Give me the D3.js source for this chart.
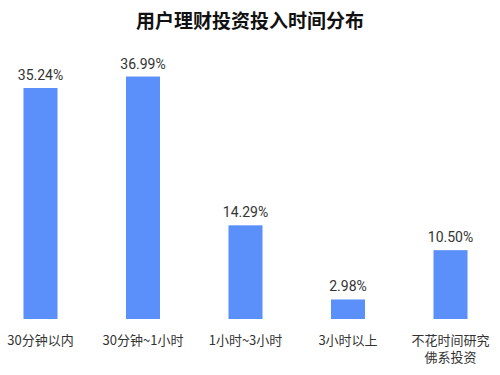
<!DOCTYPE html>
<html><head><meta charset="utf-8">
<script src="https://cdn.jsdelivr.net/npm/d3@7"></script>
<style>body{margin:0;background:#fff}</style>
</head><body>
<svg id="c" width="500" height="375"></svg>
<script>
const categories = [["30分钟以内"],["30分钟~1小时"],["1小时~3小时"],["3小时以上"],["不花时间研究","佛系投资"]];
const values = [35.24, 36.99, 14.29, 2.98, 10.50];
const labels = ["35.24%","36.99%","14.29%","2.98%","10.50%"];

const svg = d3.select("#c");
const x = d3.scaleBand().domain(d3.range(values.length)).range([-10.75, 501.75]).paddingInner(0.668).paddingOuter(0.334);
const y = d3.scaleLinear().domain([0, 40]).range([319, 56.8]);

svg.append("text").attr("x", 250).attr("y", 28).attr("text-anchor", "middle")
  .attr("font-family", "'Noto Sans CJK SC'").attr("font-weight", "bold").attr("font-size", 19).attr("fill", "#111")
  .text("用户理财投资投入时间分布");

svg.selectAll("rect.bar").data(values).join("rect").attr("class","bar")
  .attr("x", (d,i)=>x(i)).attr("width", x.bandwidth())
  .attr("y", d=>y(d)).attr("height", d=>y(0)-y(d)).attr("fill", "#5B8FF9");

svg.selectAll("text.val").data(values).join("text").attr("class","val")
  .attr("x", (d,i)=>x(i)+x.bandwidth()/2).attr("y", d=>y(d)-8)
  .attr("text-anchor","middle").attr("font-family","'Liberation Sans Narrow', Roboto, sans-serif").attr("font-size",14).attr("fill","#333")
  .text((d,i)=>labels[i]);

const cat = svg.selectAll("text.cat").data(categories).join("text").attr("class","cat")
  .attr("text-anchor","middle").attr("font-family","'Noto Sans CJK SC'").attr("font-size",13).attr("fill","#333");
cat.each(function(lines,i){
  d3.select(this).selectAll("tspan").data(lines).join("tspan")
    .attr("x", x(i)+x.bandwidth()/2).attr("y",(l,j)=>345+j*16.5).text(l=>l);
});
</script>
</body></html>
